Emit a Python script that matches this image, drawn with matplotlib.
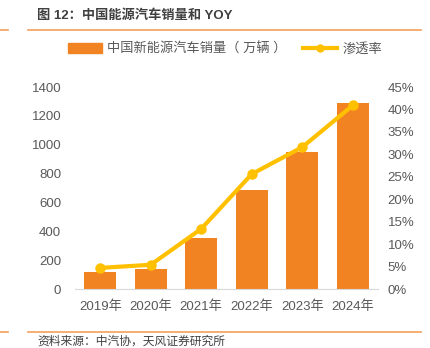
"""China NEV sales and penetration rate, bar + line"""
import matplotlib
matplotlib.use("Agg")
import matplotlib.pyplot as plt
from matplotlib.lines import Line2D
from matplotlib.patches import Patch

plt.rcParams['font.family'] = ['Liberation Sans', 'Noto Sans CJK SC', 'DejaVu Sans']

years = ['2019年', '2020年', '2021年', '2022年', '2023年', '2024年']
sales = [120.6, 136.7, 352.1, 688.7, 949.5, 1286.6]
penetration = [4.7, 5.4, 13.4, 25.6, 31.6, 40.9]

BAR = '#F28322'
LINE = '#FFC000'
GREY = '#595959'
W, H = 431, 348

fig = plt.figure(figsize=(W / 100, H / 100), dpi=100)

# title and rules
fig.text(37 / W, 1 - 16 / H, '图 12：中国能源汽车销量和 YOY', fontsize=9.5,
         fontweight='bold', color='#404040', va='center', ha='left')
for yy in (30, 332):
  fig.add_artist(Line2D([0, 8 / W], [1 - yy / H] * 2, color='#F5A05A', lw=1.2))
  fig.add_artist(Line2D([28 / W, 421 / W], [1 - yy / H] * 2, color='#F5A05A', lw=1.2))
fig.text(37 / W, 1 - 342 / H, '资料来源：中汽协，天风证券研究所', fontsize=8.5,
         color='#404040', va='center', ha='left')

# plot area
left, right, top, bottom = 75, 378, 87, 289
ax = fig.add_axes([left / W, 1 - bottom / H, (right - left) / W, (bottom - top) / H])
ax2 = ax.twinx()

x = range(len(years))
ax.bar(x, sales, width=0.63, color=BAR, zorder=2)
ax2.plot(x, penetration, color=LINE, lw=3, marker='o', markersize=6.5, zorder=3)

ax.set_xlim(-0.5, 5.5)
ax.set_ylim(0, 1400)
ax.set_yticks(range(0, 1401, 200))
ax2.set_ylim(0, 45)
ax2.set_yticks(range(0, 46, 5))
ax2.set_yticklabels([f'{v}%' for v in range(0, 46, 5)])
ax.set_xticks(list(x))
ax.set_xticklabels(years)

for a in (ax, ax2):
  for s in a.spines.values():
    s.set_visible(False)
  a.tick_params(length=0, labelsize=9.5, labelcolor=GREY)
ax.spines['bottom'].set_visible(True)
ax.spines['bottom'].set_color('#D9D9D9')
ax.tick_params(axis='y', pad=10)
ax2.tick_params(axis='y', pad=7)
ax.tick_params(axis='x', pad=8)

# legend
handles = [Patch(color=BAR), Line2D([0], [0], color=LINE, lw=3, marker='o', markersize=5)]
fig.legend(handles, ['中国新能源汽车销量（ 万辆 ）', '渗透率'], loc='center',
           bbox_to_anchor=(225 / W, 1 - 49 / H), ncol=2, frameon=False,
           fontsize=9.5, labelcolor=GREY, handlelength=2.6, handletextpad=0.4,
           columnspacing=1.2)

fig.savefig('out.png', dpi=100)
